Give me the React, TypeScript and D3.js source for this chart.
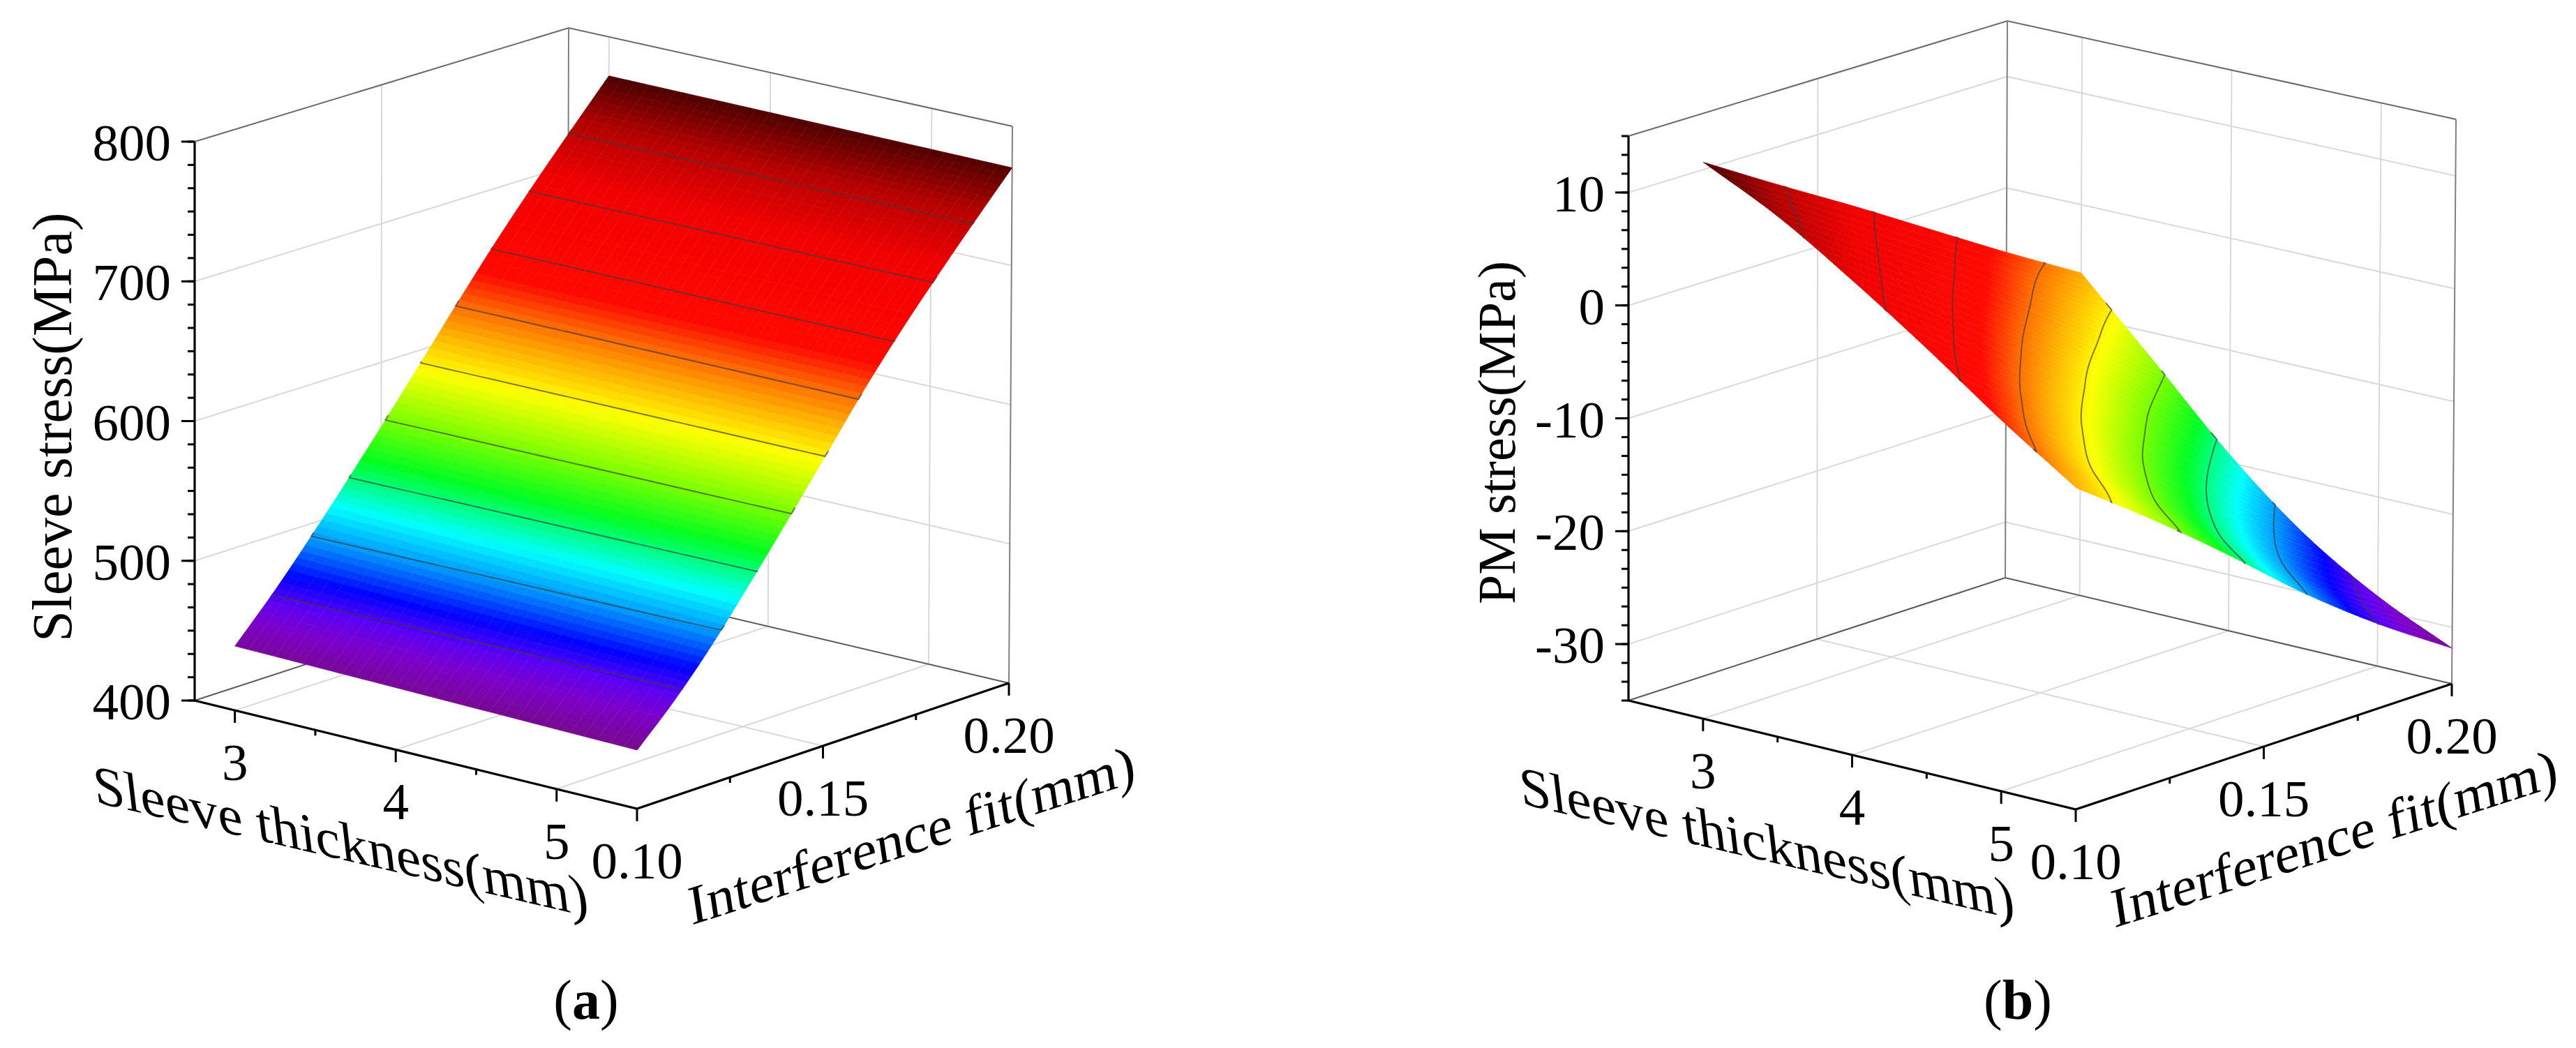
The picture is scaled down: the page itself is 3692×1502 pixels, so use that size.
import * as d3 from "d3";

const FONT = "'Liberation Serif', 'Times New Roman', serif";

// ---- panel (a) values ----
const SLEEVE_A = [3, 4.25, 5.5];
const FIT_A = [0.1, 0.11, 0.12, 0.13, 0.14, 0.15, 0.16, 0.17, 0.18, 0.19, 0.2];
const STRESS_A = [
  [446, 474.4, 505.5, 538.3, 572.4, 607.4, 642.9, 677.4, 709.9, 741.1, 771.7],
  [443.8, 471.2, 502, 535.7, 570.6, 606.5, 642.9, 677.4, 709.6, 740.6, 771],
  [441.6, 468.1, 498.6, 533.1, 568.9, 605.7, 642.9, 677.4, 709.4, 740.2, 770.2],
];
const LEVELS_A = [474, 507, 540.4, 573.5, 606.6, 639.7, 672.8, 706, 739];
const Z_TICKS_A = [400, 500, 600, 700, 800];

// ---- panel (b) values ----
const SLEEVE_B = [3, 3.5, 4, 4.5, 5, 5.5];
const FIT_B = [0.1, 0.12, 0.14, 0.16, 0.18, 0.2];
const STRESS_B = [
  [14.3, 10.2, 6.2, 2.05, -2.1, -6.1],
  [11.1, 6.54, 2.0, -2.63, -7.52, -12.65],
  [7.04, 2.15, -2.98, -8.36, -14.01, -19.27],
  [2.6, -2.87, -8.52, -14.31, -19.78, -24.76],
  [-2.14, -7.82, -13.42, -18.99, -24.27, -28.8],
  [-6.5, -11.5, -16.83, -22.43, -27.43, -31.85],
];
const LEVELS_B = [9.8, 5.1, 0.5, -4.2, -8.8, -13.5, -18.2, -22.8, -27.5];
const Z_TICKS_B = [-30, -20, -10, 0, 10];

const SLEEVE_TICKS = [3, 4, 5];
const SLEEVE_MINOR = [3.5, 4.5];
const FIT_TICKS = [0.1, 0.15, 0.2];
const FIT_MINOR = [0.125, 0.175];

// Origin-style rainbow
const COLOR_STOPS = [0, 0.05, 0.09, 0.13, 0.19, 0.25, 0.33, 0.4, 0.49, 0.55, 0.6, 0.66, 0.83, 0.92, 1];
const COLOR_VALUES = [
  "#760a8c", "#7d00c8", "#5a00f5", "#0000ff", "#0090ff", "#00ffff", "#00ff20", "#78ff00",
  "#ffff00", "#ffb400", "#ff7000", "#ff0800", "#f00000", "#b40000", "#4a0000",
];

const PANELS = [
  {
    sleeve: SLEEVE_A,
    fit: FIT_A,
    table: STRESS_A,
    levels: LEVELS_A,
    zTicks: Z_TICKS_A,
    sDomain: [2.75, 5.5],
    zDomain: [400, 800],
    minorStep: 100 / 6,
    corners: {
      A: [279, 1004], F: [913, 1159], B: [813, 830], R: [1446, 979],
      At: [279, 203], Ft: [915, 352], Bt: [815, 40], Rt: [1451, 181],
    },
    yTitle: "Sleeve stress(MPa)",
    yTitleSize: 80,
    yTitleX: 102,
    yTitleY: 612,
    sLabel: [137, 1150, 0.232],
    fLabel: [991, 1326, -0.322],
    caption: "a",
    captionX: 840,
  },
  {
    sleeve: SLEEVE_B,
    fit: FIT_B,
    table: STRESS_B,
    levels: LEVELS_B,
    zTicks: Z_TICKS_B,
    sDomain: [2.5, 5.5],
    zDomain: [-35, 15],
    minorStep: 10 / 6,
    corners: {
      A: [2334, 1004], F: [2975, 1160], B: [2874, 828], R: [3514, 980],
      At: [2334, 195], Ft: [2977, 352], Bt: [2877, 30], Rt: [3520, 171],
    },
    yTitle: "PM stress(MPa)",
    yTitleSize: 76,
    yTitleX: 2171,
    yTitleY: 620,
    sLabel: [2181, 1152, 0.234],
    fLabel: [3030, 1330, -0.32],
    caption: "b",
    captionX: 2892,
  },
];

const line = d3.line();

function catmull(p0, p1, p2, p3, t) {
  return (
    0.5 *
    (2 * p1 +
      (p2 - p0) * t +
      (2 * p0 - 5 * p1 + 4 * p2 - p3) * t * t +
      (3 * p1 - p0 - 3 * p2 + p3) * t * t * t)
  );
}

// extend a row with straight ghost ends so the edges stay sharp
const at = (arr, i) => {
  const n = arr.length;
  if (i < 0) return 2 * arr[0] - arr[1];
  if (i >= n) return 2 * arr[n - 1] - arr[n - 2];
  return arr[i];
};

// smooth lookup in a table, x and y are fractional indices
function sampleTable(table, y, x) {
  const ny = table.length;
  const nx = table[0].length;
  const j = Math.min(Math.floor(y), ny - 2);
  const i = Math.min(Math.floor(x), nx - 2);
  const rows = [j - 1, j, j + 1, j + 2].map((r) => {
    const vals = [-1, 0, 1, 2].map((d) => {
      const col = table.map((row) => at(row, i + d));
      return at(col, r);
    });
    return catmull(vals[0], vals[1], vals[2], vals[3], x - i);
  });
  return catmull(rows[0], rows[1], rows[2], rows[3], y - j);
}

function Panel({ cfg }) {
  const { A, F, B, R, At, Ft, Bt, Rt } = cfg.corners;
  const fDomain = [0.1, 0.2];
  const uScale = d3.scaleLinear().domain(cfg.sDomain).range([0, 1]);
  const vScale = d3.scaleLinear().domain(fDomain).range([0, 1]);
  const wScale = d3.scaleLinear().domain(cfg.zDomain).range([0, 1]);

  const bilin = (u, v, p00, p10, p01, p11, k) =>
    p00[k] * (1 - u) * (1 - v) + p10[k] * u * (1 - v) + p01[k] * (1 - u) * v + p11[k] * u * v;

  const project = (s, f, z) => {
    const u = uScale(s);
    const v = vScale(f);
    const w = wScale(z);
    return [0, 1].map((k) => {
      const lo = bilin(u, v, A, F, B, R, k);
      const hi = bilin(u, v, At, Ft, Bt, Rt, k);
      return lo + (hi - lo) * w;
    });
  };

  const [sMin, sMax] = cfg.sDomain;
  const [fMin, fMax] = fDomain;
  const [zMin, zMax] = cfg.zDomain;

  // fine mesh for the shaded surface
  const sIndex = d3.scaleLinear().domain(cfg.sleeve).range(d3.range(cfg.sleeve.length));
  const fIndex = d3.scaleLinear().domain(cfg.fit).range(d3.range(cfg.fit.length));
  const ns = 61;
  const nf = 91;
  const sFine = d3.range(ns).map((i) => cfg.sleeve[0] + ((cfg.sleeve.at(-1) - cfg.sleeve[0]) * i) / (ns - 1));
  const fFine = d3.range(nf).map((i) => cfg.fit[0] + ((cfg.fit.at(-1) - cfg.fit[0]) * i) / (nf - 1));
  const grid = sFine.map((s) => fFine.map((f) => sampleTable(cfg.table, sIndex(s), fIndex(f))));

  const flat = grid.flat();
  const zLo = d3.min(flat);
  const zHi = d3.max(flat);
  const tScale = d3.scaleLinear().domain([zLo, zHi]).range([0, 1]);
  const color = d3.scaleLinear().domain(COLOR_STOPS).range(COLOR_VALUES).clamp(true);

  const cells = [];
  for (let j = ns - 2; j >= 0; j--) {
    for (let i = nf - 2; i >= 0; i--) {
      const pts = [
        project(sFine[j], fFine[i], grid[j][i]),
        project(sFine[j + 1], fFine[i], grid[j + 1][i]),
        project(sFine[j + 1], fFine[i + 1], grid[j + 1][i + 1]),
        project(sFine[j], fFine[i + 1], grid[j][i + 1]),
      ];
      const mean = (grid[j][i] + grid[j + 1][i] + grid[j + 1][i + 1] + grid[j][i + 1]) / 4;
      cells.push({ key: `${j}-${i}`, d: line(pts) + "Z", fill: color(tScale(mean)) });
    }
  }

  // faint mesh lines on the surface, mostly along the fit direction
  const meshLines = [];
  for (let j = 0; j < ns; j += 2) {
    meshLines.push({ d: line(fFine.map((f, i) => project(sFine[j], f, grid[j][i]))), o: 0.06 });
  }
  for (let i = 0; i < nf; i += 6) {
    meshLines.push({ d: line(sFine.map((s, j) => project(s, fFine[i], grid[j][i]))), o: 0.025 });
  }

  // contour lines, only the runs that are not on the grid boundary
  const contourGen = d3.contours().size([nf, ns]);
  const toPoint = ([cx, cy]) => {
    const fi = Math.max(0, Math.min(nf - 1, cx - 0.5));
    const sj = Math.max(0, Math.min(ns - 1, cy - 0.5));
    const i0 = Math.min(Math.floor(fi), nf - 2);
    const j0 = Math.min(Math.floor(sj), ns - 2);
    const tf = fi - i0;
    const ts = sj - j0;
    const z =
      grid[j0][i0] * (1 - tf) * (1 - ts) +
      grid[j0][i0 + 1] * tf * (1 - ts) +
      grid[j0 + 1][i0] * (1 - tf) * ts +
      grid[j0 + 1][i0 + 1] * tf * ts;
    const s = sFine[j0] + (sFine[j0 + 1] - sFine[j0]) * ts;
    const f = fFine[i0] + (fFine[i0 + 1] - fFine[i0]) * tf;
    return project(s, f, z);
  };
  const onEdge = ([cx, cy]) => cx <= 0 || cy <= 0 || cx >= nf || cy >= ns;
  const contourPaths = [];
  cfg.levels.forEach((level) => {
    const shape = contourGen.contour(flat, level);
    shape.coordinates.forEach((poly) => {
      poly.forEach((ring) => {
        const first = ring.findIndex(onEdge);
        if (first < 0) {
          contourPaths.push(line(ring.map(toPoint)));
          return;
        }
        const turned = ring.slice(first, -1).concat(ring.slice(0, first), [ring[first]]);
        let run = [];
        turned.forEach((pt, n) => {
          if (!onEdge(pt)) {
            if (run.length === 0) run.push(turned[n - 1]);
            run.push(pt);
          } else if (run.length > 0) {
            run.push(pt);
            contourPaths.push(line(run.map(toPoint)));
            run = [];
          }
        });
      });
    });
  });

  // walls and floor grid
  const gridLines = [];
  cfg.zTicks
    .filter((z) => z > zMin && z < zMax)
    .forEach((z) => {
      gridLines.push([project(sMin, fMin, z), project(sMin, fMax, z), project(sMax, fMax, z)]);
    });
  SLEEVE_TICKS.forEach((s) => {
    gridLines.push([project(s, fMin, zMin), project(s, fMax, zMin), project(s, fMax, zMax)]);
  });
  gridLines.push([project(sMax, 0.15, zMin), project(sMin, 0.15, zMin), project(sMin, 0.15, zMax)]);

  const zMinor = d3.range(zMin, zMax + 0.01, cfg.minorStep);

  const tick = (s, f, len, key) => {
    const p = project(s, f, zMin);
    return <line key={key} x1={p[0]} y1={p[1]} x2={p[0]} y2={p[1] + len} stroke="#000" strokeWidth="3" />;
  };

  const [slx, sly, sls] = cfg.sLabel;
  const [flx, fly, fls] = cfg.fLabel;

  return (
    <g fontFamily={FONT} fill="#000">
      {gridLines.map((pts, i) => (
        <path key={i} d={line(pts)} fill="none" stroke="#d9d9d9" strokeWidth="2" />
      ))}

      {/* box */}
      <path
        d={line([project(sMin, fMin, zMax), project(sMin, fMax, zMax), project(sMax, fMax, zMax)])}
        fill="none"
        stroke="#6a6a6a"
        strokeWidth="2"
      />
      <path
        d={line([project(sMin, fMin, zMin), project(sMin, fMax, zMin), project(sMax, fMax, zMin)])}
        fill="none"
        stroke="#5a5a5a"
        strokeWidth="2"
      />
      <line
        x1={project(sMin, fMax, zMin)[0]}
        y1={project(sMin, fMax, zMin)[1]}
        x2={project(sMin, fMax, zMax)[0]}
        y2={project(sMin, fMax, zMax)[1]}
        stroke="#808080"
        strokeWidth="2"
      />
      <line
        x1={project(sMax, fMax, zMin)[0]}
        y1={project(sMax, fMax, zMin)[1]}
        x2={project(sMax, fMax, zMax)[0]}
        y2={project(sMax, fMax, zMax)[1]}
        stroke="#808080"
        strokeWidth="2"
      />

      {/* surface */}
      {cells.map((c) => (
        <path key={c.key} d={c.d} fill={c.fill} stroke={c.fill} strokeWidth="0.8" />
      ))}
      {meshLines.map((m, i) => (
        <path key={i} d={m.d} fill="none" stroke="#fff" strokeOpacity={m.o} strokeWidth="1" />
      ))}
      {contourPaths.map((d, i) => (
        <path key={i} d={d} fill="none" stroke="#3c3c3c" strokeOpacity="0.65" strokeWidth="2" />
      ))}

      {/* front axes */}
      <path
        d={line([project(sMin, fMin, zMax), project(sMin, fMin, zMin), project(sMax, fMin, zMin), project(sMax, fMax, zMin)])}
        fill="none"
        stroke="#000"
        strokeWidth="3.2"
      />
      {zMinor.map((z) => {
        const p = project(sMin, fMin, z);
        return <line key={z} x1={p[0] - 10} y1={p[1]} x2={p[0]} y2={p[1]} stroke="#000" strokeWidth="3" />;
      })}
      {cfg.zTicks.map((z) => {
        const p = project(sMin, fMin, z);
        return (
          <g key={z}>
            <line x1={p[0] - 19} y1={p[1]} x2={p[0]} y2={p[1]} stroke="#000" strokeWidth="3" />
            <text x={p[0] - 34} y={p[1] + 27} fontSize="75" textAnchor="end">
              {z}
            </text>
          </g>
        );
      })}
      {SLEEVE_TICKS.map((s) => tick(s, fMin, 18, `s${s}`))}
      {SLEEVE_MINOR.map((s) => tick(s, fMin, 8, `sm${s}`))}
      {FIT_TICKS.map((f) => tick(sMax, f, 18, `f${f}`))}
      {FIT_MINOR.map((f) => tick(sMax, f, 8, `fm${f}`))}

      {SLEEVE_TICKS.map((s) => {
        const p = project(s, fMin, zMin);
        return (
          <text key={s} x={p[0]} y={p[1] + 100} fontSize="75" textAnchor="middle">
            {s}
          </text>
        );
      })}
      {FIT_TICKS.map((f) => {
        const p = project(sMax, f, zMin);
        return (
          <text key={f} x={p[0]} y={p[1] + 100} fontSize="75" textAnchor="middle">
            {f.toFixed(2)}
          </text>
        );
      })}

      <text
        transform={`translate(${cfg.yTitleX},${cfg.yTitleY}) rotate(-90)`}
        fontSize={cfg.yTitleSize}
        textAnchor="middle"
      >
        {cfg.yTitle}
      </text>
      <text transform={`matrix(1,${sls},0.12,1,${slx},${sly})`} fontSize="80">
        Sleeve thickness(mm)
      </text>
      <text transform={`matrix(1,${fls},0.15,1,${flx},${fly})`} fontSize="78">
        Interference fit(mm)
      </text>

      <text x={cfg.captionX} y={1460} fontSize="80" textAnchor="middle">
        (<tspan fontWeight="bold">{cfg.caption}</tspan>)
      </text>
    </g>
  );
}

export default function App() {
  return (
    <svg
      width={3692}
      height={1502}
      viewBox="0 0 3692 1502"
      style={{ position: "absolute", left: 0, top: 0, background: "#fff" }}
    >
      {PANELS.map((cfg) => (
        <Panel key={cfg.caption} cfg={cfg} />
      ))}
    </svg>
  );
}
